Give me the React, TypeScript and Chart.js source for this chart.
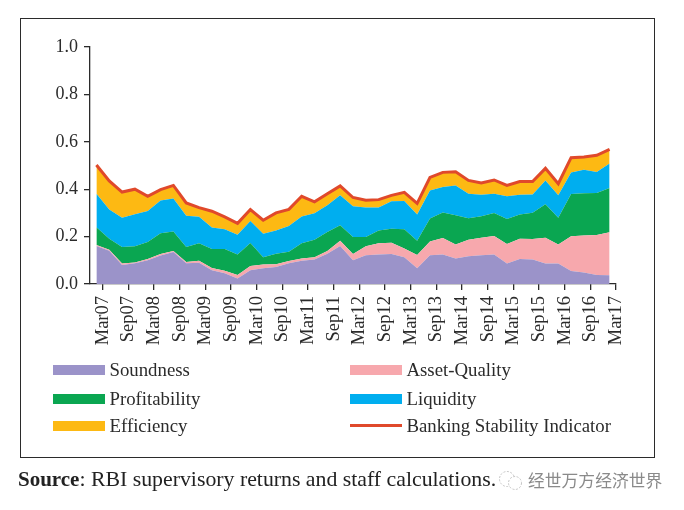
import React, { useEffect, useRef } from "react";
import { Chart, registerables } from "chart.js";

Chart.register(...registerables);

const tickLabels = ["Mar07","Sep07","Mar08","Sep08","Mar09","Sep09","Mar10","Sep10","Mar11","Sep11","Mar12","Sep12","Mar13","Sep13","Mar14","Sep14","Mar15","Sep15","Mar16","Sep16","Mar17"];

const soundness = [.160,.140,.080,.088,.100,.120,.135,.088,.090,.058,.045,.023,.058,.066,.072,.088,.098,.103,.128,.160,.100,.121,.125,.127,.113,.066,.121,.125,.108,.117,.121,.125,.087,.105,.103,.087,.086,.055,.048,.038,.037];
const assetQuality = [.005,.005,.006,.003,.005,.007,.004,.005,.008,.010,.011,.015,.018,.016,.011,.009,.010,.010,.011,.023,.027,.038,.047,.047,.037,.056,.058,.069,.059,.070,.074,.078,.082,.086,.087,.108,.081,.146,.157,.169,.181];
const profitability = [.074,.046,.070,.068,.072,.087,.082,.063,.074,.080,.092,.087,.097,.031,.045,.039,.064,.074,.080,.065,.071,.039,.054,.059,.081,.061,.097,.108,.123,.090,.091,.097,.105,.102,.111,.141,.113,.179,.178,.177,.187];
const liquidity = [.142,.123,.124,.135,.131,.138,.140,.132,.112,.090,.083,.083,.093,.099,.098,.109,.113,.111,.113,.126,.130,.125,.097,.116,.119,.110,.118,.107,.126,.104,.091,.081,.096,.084,.077,.101,.094,.090,.099,.089,.103];
const efficiency = [.121,.121,.108,.106,.062,.046,.055,.054,.038,.069,.052,.048,.048,.057,.074,.070,.085,.049,.049,.040,.037,.030,.033,.025,.037,.047,.056,.062,.058,.056,.049,.058,.046,.055,.054,.051,.049,.063,.054,.070,.060];
const bsi = [.502,.435,.388,.400,.370,.398,.416,.342,.322,.307,.283,.256,.314,.269,.300,.315,.370,.347,.381,.414,.365,.353,.356,.374,.387,.340,.450,.471,.474,.437,.426,.439,.416,.432,.432,.488,.423,.533,.536,.543,.568];

const INK = "#2b2b2b";
const SERIF = '"Liberation Serif", serif';

const areas = [
  { label: "Soundness", values: soundness, color: "#9b93c9" },
  { label: "Asset-Quality", values: assetQuality, color: "#f7a8ad" },
  { label: "Profitability", values: profitability, color: "#0aa651" },
  { label: "Liquidity", values: liquidity, color: "#00aeef" },
  { label: "Efficiency", values: efficiency, color: "#fdb913" },
];
const lineColor = "#e0492b";

const legendItems = [
  { label: "Soundness", color: "#9b93c9", x: 53, y: 369.5, line: false },
  { label: "Asset-Quality", color: "#f7a8ad", x: 350, y: 369.5, line: false },
  { label: "Profitability", color: "#0aa651", x: 53, y: 399, line: false },
  { label: "Liquidity", color: "#00aeef", x: 350, y: 399, line: false },
  { label: "Efficiency", color: "#fdb913", x: 53, y: 425.7, line: false },
  { label: "Banking Stability Indicator", color: lineColor, x: 350, y: 425.7, line: true },
];

const pts = (a: number[]) => a.map((y, x) => ({ x, y }));

export default function App() {
  const ref = useRef<HTMLCanvasElement | null>(null);
  useEffect(() => {
    document.body.style.margin = "0";
    const chart = new Chart(ref.current!, {
      type: "line",
      data: {
        datasets: [
          ...areas.map((a, i) => ({
            label: a.label,
            data: pts(a.values),
            backgroundColor: a.color,
            borderColor: a.color,
            borderWidth: 0,
            pointRadius: 0,
            tension: 0,
            fill: i === 0 ? "origin" : "-1",
            stack: "parts",
            order: 2,
          })),
          {
            label: "Banking Stability Indicator",
            data: pts(bsi),
            borderColor: lineColor,
            borderWidth: 3,
            pointRadius: 0,
            tension: 0,
            fill: false,
            stack: "total",
            order: 1,
          },
        ] as any,
      },
      options: {
        responsive: false,
        animation: false,
        layout: { padding: { top: 47, right: 68, left: 0, bottom: 0 } },
        plugins: { legend: { display: false }, tooltip: { enabled: false } },
        scales: {
          x: {
            type: "linear",
            min: -0.5,
            max: 40.5,
            afterBuildTicks: (s: any) => {
              s.ticks = tickLabels.map((_, i) => ({ value: i * 2 + 0.5 }));
            },
            afterFit: (s: any) => { s.height = 226; },
            grid: { drawOnChartArea: false, drawTicks: true, tickLength: 6, color: INK, lineWidth: 1.3 },
            border: { color: INK, width: 1.3 },
            ticks: {
              autoSkip: false,
              minRotation: 90,
              maxRotation: 90,
              padding: 6,
              color: INK,
              font: { family: SERIF, size: 18.5 },
              callback: (v: any) => tickLabels[Math.round((Number(v) - 0.5) / 2)] ?? "",
            },
          },
          y: {
            stacked: true,
            min: 0,
            max: 1,
            afterFit: (s: any) => { s.width = 90; },
            grid: { drawOnChartArea: false, drawTicks: true, tickLength: 6, color: INK, lineWidth: 1.3 },
            border: { color: INK, width: 1.3 },
            ticks: {
              stepSize: 0.2,
              padding: 6,
              color: INK,
              font: { family: SERIF, size: 18 },
              callback: (v: any) => Number(v).toFixed(1),
            },
          },
        },
      },
    });
    return () => chart.destroy();
  }, []);

  return (
    <div style={{ position: "fixed", left: 0, top: 0, width: 684, height: 510, background: "#fff", overflow: "hidden" }}>
      <canvas ref={ref} width={684} height={510} style={{ position: "absolute", left: 0, top: 0 }} />
      <div style={{ position: "absolute", left: 20, top: 18, width: 635, height: 440, border: `1.5px solid ${INK}`, boxSizing: "border-box", pointerEvents: "none" }} />
      {legendItems.map((it) => (
        <React.Fragment key={it.label}>
          <div style={{ position: "absolute", left: it.x, width: 52, top: it.line ? it.y - 1.5 : it.y - 5, height: it.line ? 3 : 10, background: it.color }} />
          <div style={{ position: "absolute", left: it.x + 56.5, top: it.y - 12, fontFamily: SERIF, fontSize: 18.8, lineHeight: "24px", color: INK, whiteSpace: "nowrap" }}>{it.label}</div>
        </React.Fragment>
      ))}
      <div style={{ position: "absolute", left: 18, top: 467, fontFamily: SERIF, fontSize: 21.8, lineHeight: "24px", color: "#222", whiteSpace: "nowrap" }}>
        <b style={{ fontSize: 21 }}>Source</b>: RBI supervisory returns and staff calculations.
      </div>
      <svg width="26" height="22" style={{ position: "absolute", left: 498, top: 470 }}>
        <circle cx="9" cy="9" r="7.5" fill="none" stroke="#c4c4c4" strokeWidth="1" strokeDasharray="2 1.5" />
        <circle cx="17" cy="13" r="6.5" fill="#fff" stroke="#c4c4c4" strokeWidth="1" strokeDasharray="2 1.5" />
      </svg>
      <div style={{ position: "absolute", left: 528, top: 469, fontFamily: '"Noto Sans CJK SC"', fontSize: 16.8, lineHeight: "22px", color: "#8a8a8a", whiteSpace: "nowrap" }}>经世万方经济世界</div>
    </div>
  );
}
